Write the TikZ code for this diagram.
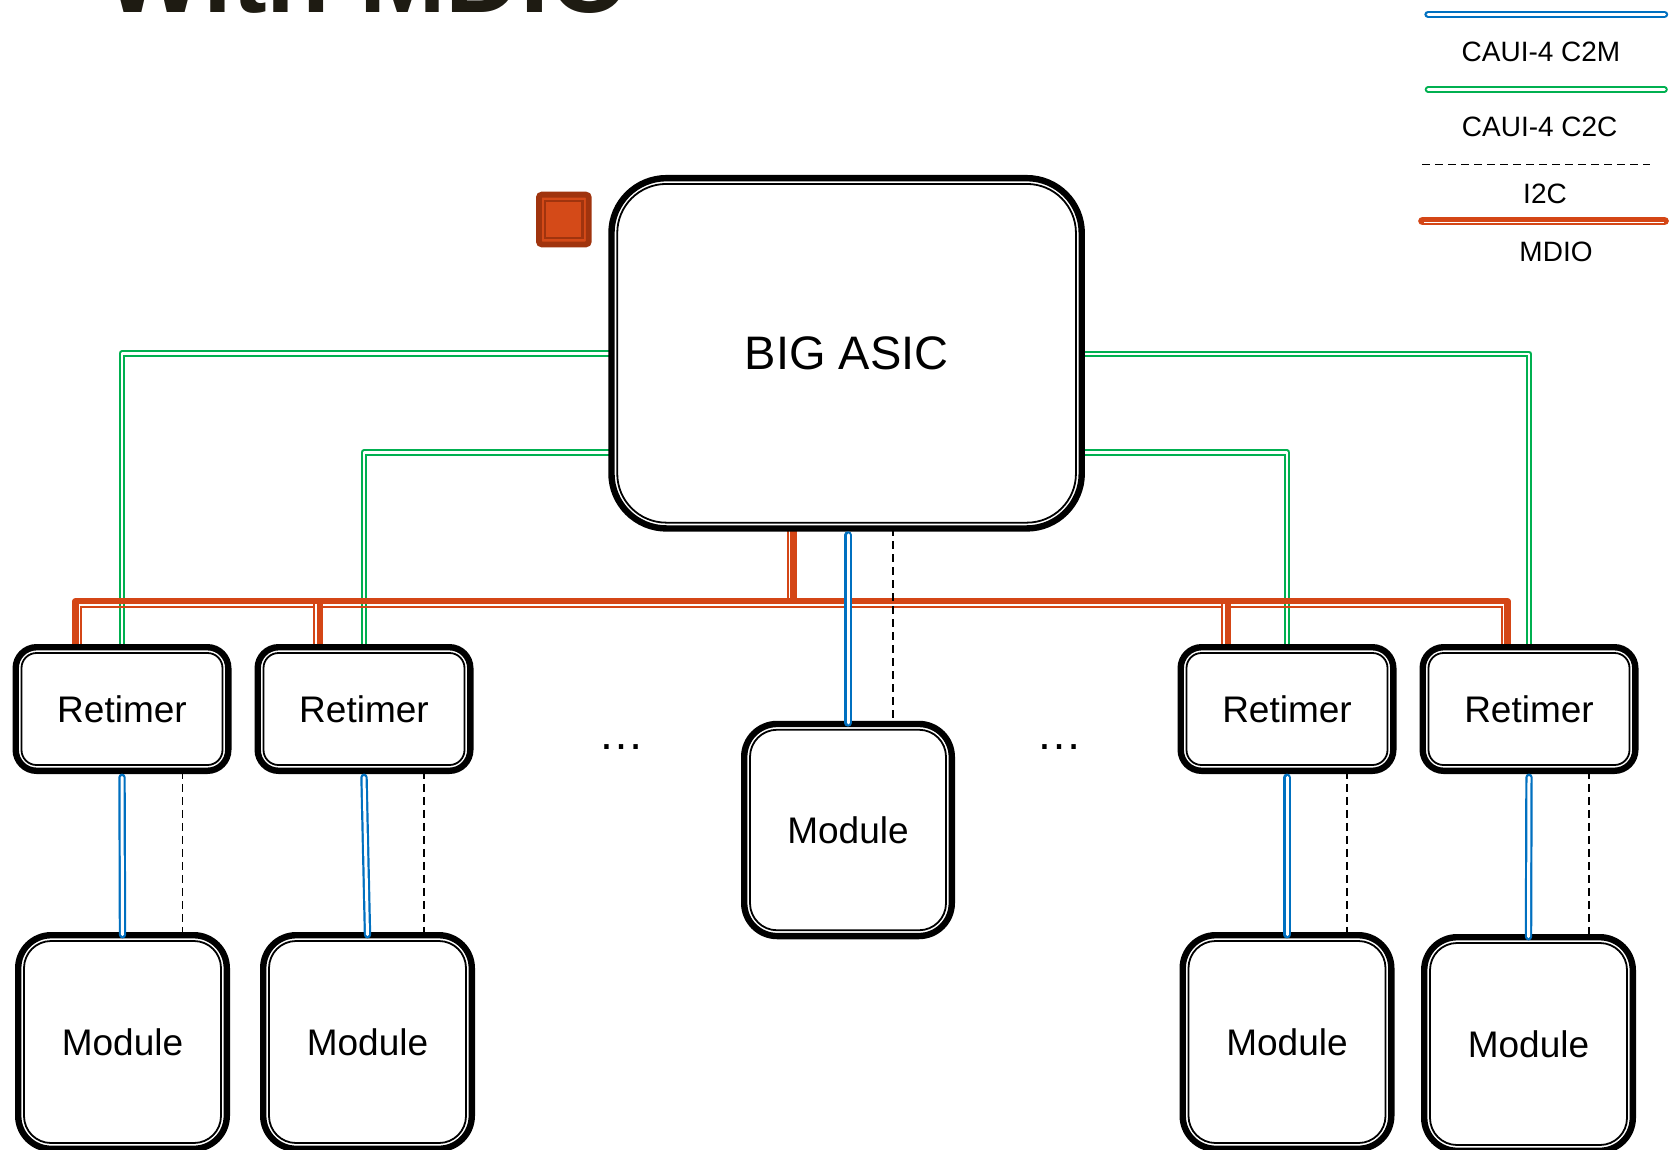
\documentclass[tikz,border=0pt]{standalone}
\usepackage{fontspec}
\setmainfont{Liberation Sans}
\usetikzlibrary{calc}
\pgfdeclarelayer{background}
\pgfsetlayers{background,main}
\definecolor{mdio}{RGB}{212,70,22}
\definecolor{cgreen}{RGB}{0,176,80}
\definecolor{cblue}{RGB}{0,112,192}
\definecolor{sqdark}{RGB}{160,52,14}
\definecolor{sqfill}{RGB}{212,74,24}
\definecolor{titlec}{RGB}{30,27,18}
\tikzset{
  box/.style={draw=black, fill=white, line width=6.4pt, outer sep=0pt, inner sep=0pt, font=\fontsize{37}{44}\selectfont},
  innerline/.style={draw=black, line width=1.8pt},
  c2c/.style={draw=cgreen, double=white, line width=2pt, double distance=2.6pt, line join=round},
  c2m/.style={draw=cblue, double=white, line width=2.2pt, double distance=3pt, line cap=round},
  i2c/.style={draw=black, line width=1.3pt, dash pattern=on 8pt off 5pt},
  mthick/.style={draw=mdio, line width=6.4pt, line join=round},
  mthin/.style={draw=mdio, line width=1.8pt},
  mgap/.style={draw=white, line width=1.7pt},
  legtext/.style={font=\fontsize{28}{32}\selectfont, anchor=base, inner sep=0pt},
  dotstyle/.style={font=\fontsize{46}{50}\selectfont, anchor=base, inner sep=0pt},
}
\newcommand\inb[2]{\draw[innerline, rounded corners=#2] ([xshift=5.8pt,yshift=5.8pt]#1.south west) rectangle ([xshift=-5.8pt,yshift=-5.8pt]#1.north east);}
\begin{document}
\begin{tikzpicture}[x=1pt,y=-1pt]
\useasboundingbox (0,0) rectangle (1671,1149);
\clip (0,0) rectangle (1671,1149);
\begin{pgfonlayer}{background}
\fill[white] (0,0) rectangle (1671,1149);
\end{pgfonlayer}

% title (cut off at the top edge, as in the reference)
\node[anchor=base west, font=\bfseries\fontsize{104}{110}\selectfont, text=titlec, inner sep=0pt] (title) at (105.7,12.5) {With MDIO};

% boxes
\node[box, minimum width=470.3, minimum height=350.3, rounded corners=55, font=\fontsize{47}{54}\selectfont] (asic) at (846.6,353.3) {BIG ASIC};
\inb{asic}{49}
\node[box, minimum width=212.6, minimum height=123.6, rounded corners=21] (r1) at (122,709) {Retimer};
\node[box, minimum width=212.6, minimum height=123.6, rounded corners=21] (r2) at (364,709) {Retimer};
\node[box, minimum width=212.6, minimum height=123.6, rounded corners=21] (r3) at (1287,709) {Retimer};
\node[box, minimum width=212.6, minimum height=123.6, rounded corners=21] (r4) at (1529,709) {Retimer};
\inb{r1}{15}\inb{r2}{15}\inb{r3}{15}\inb{r4}{15}
\node[box, minimum width=207.6, minimum height=212.1, rounded corners=33] (cm) at (848,830) {Module};
\inb{cm}{27}
\node[box, minimum width=208.6, minimum height=213.6, rounded corners=33] (m1) at (122.5,1042) {Module};
\node[box, minimum width=208.6, minimum height=213.6, rounded corners=33] (m2) at (367.5,1042) {Module};
\node[box, minimum width=208.6, minimum height=213.6, rounded corners=33] (m3) at (1287,1042) {Module};
\node[box, minimum width=208.6, minimum height=213.6, rounded corners=33] (m4) at (1528.5,1044) {Module};
\inb{m1}{27}\inb{m2}{27}\inb{m3}{27}\inb{m4}{27}

% red square
\node[draw=sqdark, fill=sqfill, line width=5.8pt, minimum width=49.9, minimum height=49.8, inner sep=0pt, outer sep=0pt, rounded corners=3] (sq) at (563.85,219.5) {};
\draw[sqdark, line width=2.2pt] ([xshift=-18.6pt,yshift=18.3pt]sq.center) rectangle ([xshift=18.6pt,yshift=-18.3pt]sq.center);

% connectors behind the boxes
\begin{pgfonlayer}{background}
% CAUI-4 C2C
\draw[c2c] (asic.west) -| (r1.north);
\draw[c2c] ([yshift=-99pt]asic.west) -| (r2.north);
\draw[c2c] ([yshift=-99pt]asic.east) -| (r3.north);
\draw[c2c] ([yshift=-0.7pt]asic.east) -| (r4.north);
% MDIO
\draw[mthin] ([xshift=-58.9pt]asic.south) -- ++(0,70);
\draw[mthick] ([xshift=-53.1pt]asic.south) -- ++(0,72.7);
\draw[mthick] ([xshift=-46.5pt]r1.north) -- ++(0,-46) -| ([xshift=-21.5pt]r4.north);
\draw[mthin] ([xshift=-41pt]r1.north) -- ++(0,-40) -| ([xshift=-27pt]r4.north);
\draw[mgap] ([xshift=-48.05pt]r2.north) -- ++(0,-42.6);
\draw[mthin] ([xshift=-49.8pt]r2.north) -- ++(0,-42.8);
\draw[mthick] ([xshift=-44pt]r2.north) -- ++(0,-46);
\draw[mgap] ([xshift=-63.05pt]r3.north) -- ++(0,-42.6);
\draw[mthin] ([xshift=-64.8pt]r3.north) -- ++(0,-42.8);
\draw[mthick] ([xshift=-59pt]r3.north) -- ++(0,-46);
% I2C
\draw[i2c] ([xshift=46.4pt]asic.south) -- ++(0,194);
\draw[i2c] ([xshift=60.5pt]r1.south) -- ++(0,164.4);
\draw[i2c] ([xshift=60pt]r2.south) -- ++(0,164.4);
\draw[i2c] ([xshift=60pt]r3.south) -- ++(0,164.4);
\draw[i2c] ([xshift=60pt]r4.south) -- ++(0,166.4);
\end{pgfonlayer}

% CAUI-4 C2M (drawn over the box tops)
\draw[c2m] ([xshift=1.4pt,yshift=-6.5pt]asic.south) -- ([yshift=1pt]cm.north);
\draw[c2m] ([yshift=-6.5pt]r1.south) -- ([yshift=0.5pt]m1.north);
\draw[c2m] ([yshift=-6.5pt]r2.south) -- ([yshift=0.5pt]m2.north);
\draw[c2m] ([yshift=-6.5pt]r3.south) -- ([yshift=0.5pt]m3.north);
\draw[c2m] ([yshift=-6.5pt]r4.south) -- ([yshift=0.5pt]m4.north);

% ellipses
\node[dotstyle] (dots1) at (621,749) {…};
\node[dotstyle] (dots2) at (1059,749) {…};

% legend
\draw[c2m] (1428,14.3) -- (1664.5,14.3);
\node[legtext] (lg1) at (1541,61) {CAUI-4 C2M};
\draw[c2c, line cap=round] (1428,89.5) -- (1664.5,89.5);
\node[legtext] (lg2) at (1539.7,136.7) {CAUI-4 C2C};
\draw[i2c] (1422,164.3) -- (1650,164.3);
\node[legtext] (lg3) at (1545,203.3) {I2C};
\draw[draw=mdio, line width=8.7pt, line cap=round] (1422.5,221) -- (1664.5,221);
\draw[draw=white, line width=1.5pt] (1424,222.6) -- (1664,222.6);
\node[legtext] (lg4) at (1556,261.7) {MDIO};
\end{tikzpicture}
\end{document}
